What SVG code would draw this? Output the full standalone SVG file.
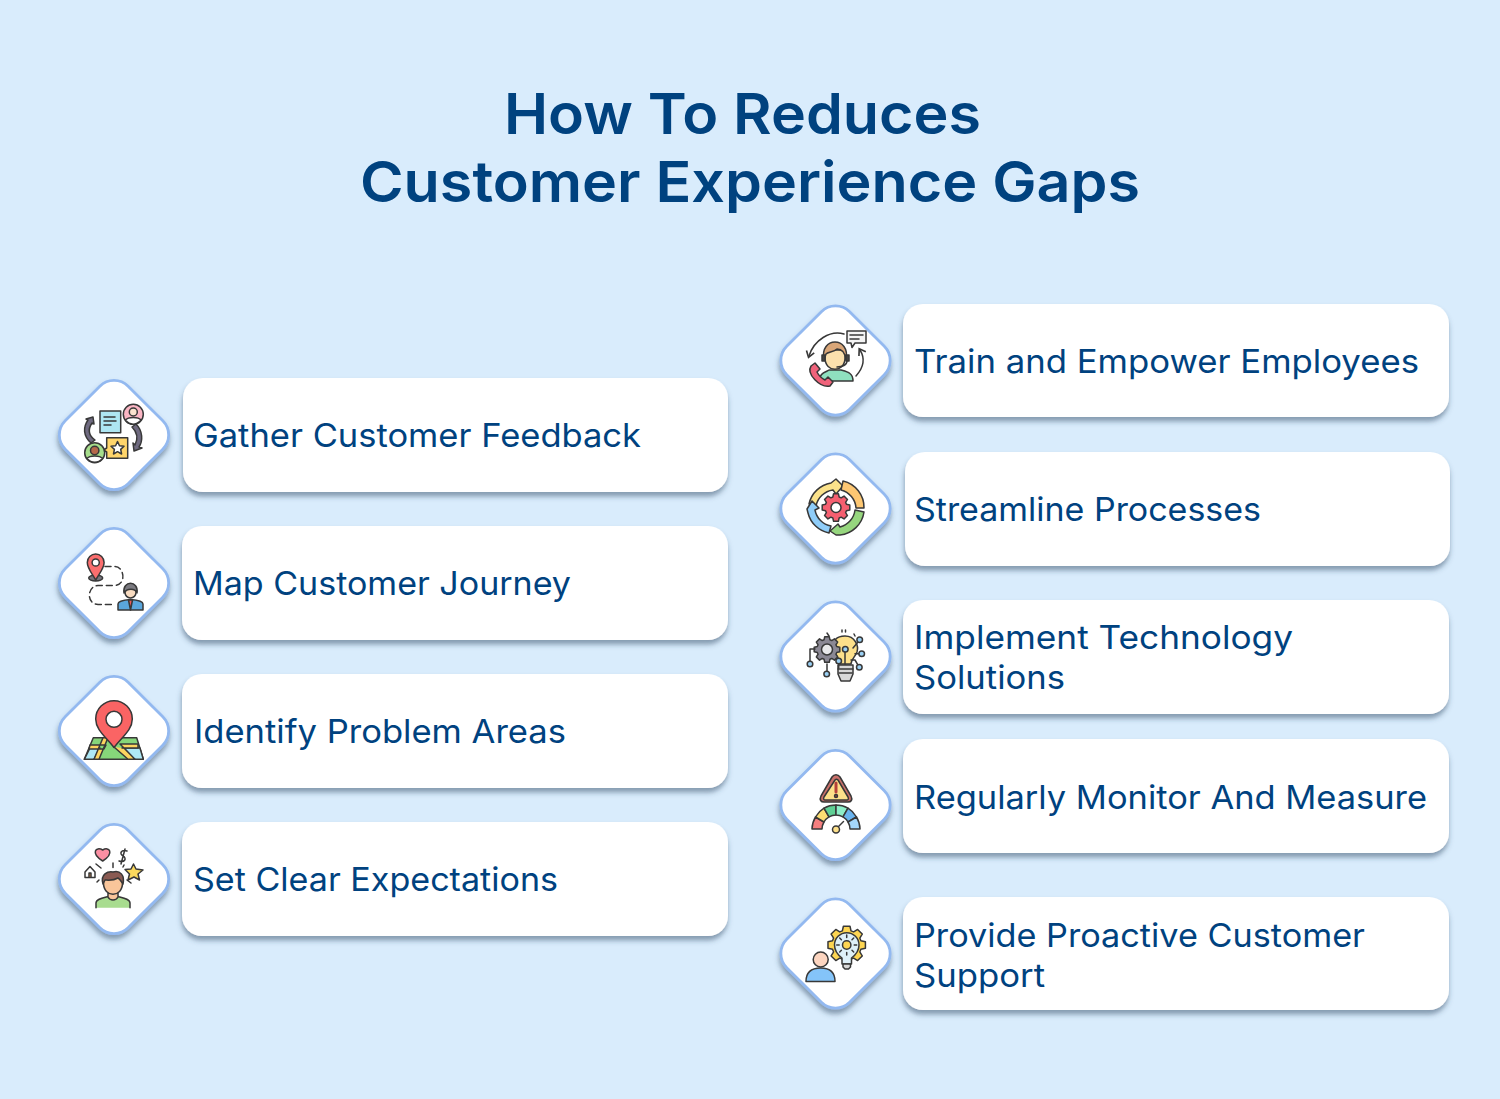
<svg xmlns="http://www.w3.org/2000/svg" width="1500" height="1099" viewBox="0 0 1500 1099">
<style>
text{font-family:"Inter","Open Sans","Liberation Sans",sans-serif;fill:#00427f}
.t{font-size:57px;font-weight:600}
.l{font-size:33px;font-weight:400}
.card{fill:#fff;filter:url(#sh)}
.dia{fill:#fff;stroke:#93b9f0;stroke-width:2.8;filter:url(#sh)}
.i{stroke:#383838;stroke-width:1.5;stroke-linejoin:round;stroke-linecap:round}
.n{fill:none}
</style>
<defs>
<filter id="sh" x="-20%" y="-20%" width="140%" height="150%"><feDropShadow dx="-0.5" dy="4.500" stdDeviation="2.800" flood-color="#2e4a66" flood-opacity=".5"/></filter>
<rect id="d" x="-44.500" y="-44.500" width="89" height="89" rx="20" transform="rotate(45)"/>
<path id="gear" vector-effect="non-scaling-stroke" d="M7.460-2.280 9.850-1.740 9.850 1.740 7.460 2.280 6.890 3.660 8.190 5.740 5.740 8.190 3.660 6.890 2.280 7.460 1.740 9.850-1.740 9.850-2.280 7.460-3.660 6.890-5.740 8.190-8.190 5.740-6.890 3.660-7.460 2.280-9.850 1.740-9.850-1.740-7.460-2.280-6.890-3.660-8.190-5.740-5.740-8.190-3.660-6.890-2.280-7.460-1.740-9.850 1.740-9.850 2.280-7.460 3.660-6.890 5.740-8.190 8.190-5.740 6.890-3.660Z"/>
<marker id="ah" markerWidth="7" markerHeight="7" refX="4" refY="3.500" orient="auto"><path d="M1 .8 5 3.500 1 6.200" fill="none" stroke="#383838" stroke-width="1.100"/></marker>
</defs>
<rect width="1500" height="1099" fill="#d9ecfc"/>
<g id="title">
<text class="t" x="504" y="134" textLength="477" lengthAdjust="spacingAndGlyphs">How To Reduces</text>
<text class="t" x="360" y="202" textLength="780" lengthAdjust="spacingAndGlyphs">Customer Experience Gaps</text>
</g>

<g id="node-feedback">
<rect class="card" x="183" y="378" width="545" height="114" rx="20"/>
<use href="#d" class="dia" x="114" y="435"/>
<text class="l" x="193" y="447" textLength="448" lengthAdjust="spacingAndGlyphs">Gather Customer Feedback</text>
<g class="i">
<path d="M91 443C83 436 83 427 88 420L86 419 93 417 94 424 92 423C88 429 88 435 95 440Z" fill="#6f6a80"/>
<path d="M136 424C143 431 143 441 139 447L142 448 134 451 133 443 135 445C138 439 138 433 132 427Z" fill="#6f6a80"/>
<path d="M100 411H120.700V432.700H100Z" fill="#aee6f2"/>
<path d="M104 417H115M104 421H116M104 425H111" class="n"/>
<circle cx="133.300" cy="414.300" r="10" fill="#fbb6c4"/>
<circle cx="133.300" cy="412" r="4" fill="#fbe3cf"/>
<path d="M125.500 420C128 416.500 138.500 416.500 141 420 136 425.500 130 425.500 125.500 420Z" fill="#fff"/>
<path d="M106.700 437.700H127.700V458.300H106.700V452L103.500 450 106.700 448Z" fill="#ffd56b"/>
<path d="M117.500 441.500 119.500 445.800 124 446.300 120.700 449.400 121.600 454 117.500 451.700 113.500 454 114.400 449.400 111 446.300 115.600 445.800Z" fill="#fff"/>
<circle cx="94.700" cy="452.700" r="10" fill="#a6dd8b"/>
<circle cx="94.700" cy="450.500" r="4.200" fill="#b5684a"/>
<path d="M87 458.500C89.500 455 100 455 102.500 458.500 98 463.500 91.500 463.500 87 458.500Z" fill="#fff"/>
</g>
</g>

<g id="node-journey">
<rect class="card" x="182" y="526" width="546" height="114" rx="20"/>
<use href="#d" class="dia" x="114" y="583"/>
<text class="l" x="193" y="595" textLength="378" lengthAdjust="spacingAndGlyphs">Map Customer Journey</text>
<g class="i">
<ellipse cx="95.700" cy="578" rx="7" ry="3" fill="#77767e"/>
<path d="M95.700 580C91 572 87.300 568 87.300 562.500A8.400 8.400 0 0 1 104.100 562.500C104.100 568 100.400 572 95.700 580Z" fill="#fa6e6e"/>
<circle cx="95.700" cy="562.500" r="3.600" fill="#fff"/>
<path d="M105 566.500H115C124 566.500 127 584.500 115 585.500H98C87 586 86 604 98 604.500H113" class="n" stroke-dasharray="6 4"/>
<path d="M118 610V604C118 601 124 600 130.500 599.500 137 600 143 601 143 604V610Z" fill="#5aa6dc"/>
<path d="M128.500 600 130.500 610 132.500 600Z" fill="#ee5a5a"/>
<circle cx="130.500" cy="592.500" r="5.500" fill="#f9dcc1"/>
<path d="M124 593C122 580 139 580 137 593 135 588 127 588 124 593Z" fill="#7b7a80"/>
</g>
</g>

<g id="node-problem">
<rect class="card" x="182" y="674" width="546" height="114" rx="20"/>
<use href="#d" class="dia" x="114" y="731"/>
<text class="l" x="194" y="743" textLength="372" lengthAdjust="spacingAndGlyphs">Identify Problem Areas</text>
<g class="i">
<path d="M93.300 737.700H136.700L143.300 759.300H84.300Z" fill="#86d67a"/>
<path d="M90 748H100L94 759.300H84.300ZM124 748 140 748 143.300 759.300H134Z" fill="#aee8f6"/>
<path d="M103 737.700 94 759.300H99L108 737.700ZM90 745H106L104 749H89ZM114 747 128 759.300H135L120 744 138 744V748L122 748" fill="#fdd45f"/>
<path d="M114 747.500C106 737 95.700 730 95.700 719A18.300 18.300 0 0 1 132.300 719C132.300 730 122 737 114 747.500Z" fill="#fa6464"/>
<circle cx="114" cy="719.300" r="8" fill="#fff"/>
</g>
</g>

<g id="node-expectations">
<rect class="card" x="182" y="822" width="546" height="114" rx="20"/>
<use href="#d" class="dia" x="114" y="879"/>
<text class="l" x="193" y="891" textLength="365" lengthAdjust="spacingAndGlyphs">Set Clear Expectations</text>
<g class="i">
<path d="M96 907.700V903C96 899 102 898 108 896.500H118C124 898 130 899 130 903V907.700" fill="#a8dc8f"/>
<path d="M108 893V897C110 901 116 901 118 897V893Z" fill="#f9c59a"/>
<path d="M103.500 883C103.500 898 122.500 898 122.500 883V878H103.500Z" fill="#f9c59a"/>
<path d="M103 884C100 874 108 871 113 872 120 870 125 875 123 884 121 881 120 879 118 878 113 881 107 880 105 880Z" fill="#8a5a52"/>
<path d="M102.700 861C90 853 96 846 102.700 850 109 846 115 853 102.700 861Z" fill="#fb8fa3"/>
<path d="M127 851C121 849 119 854 123 856S125 863 119 861M125 849 121 864" class="n"/>
<path d="M85 872 90 866.500 95 872V877.500H85Z" fill="#fff"/>
<path d="M89 877V873H91V877" fill="#f29a4e"/>
<path d="M133.500 864 136 869 143 870 138 874 139.500 880 134 877 128 880 129.500 874 125 869.500 131 869Z" fill="#fbd95d"/>
<path d="M96 864 101 868M113 863V867.500M123 867 124 865M97 882 99 880M127 880 131 883" class="n"/>
</g>
</g>

<g id="node-train">
<rect class="card" x="903" y="304" width="546" height="113" rx="20"/>
<use href="#d" class="dia" x="835.500" y="360.500"/>
<text class="l" x="914" y="373" textLength="505" lengthAdjust="spacingAndGlyphs">Train and Empower Employees</text>
<g class="i">
<path d="M844 334C830 330 814 340 809 356" class="n" marker-end="url(#ah)"/>
<path d="M856 376C864 367 865 358 860 350" class="n" marker-end="url(#ah)"/>
<path d="M820 381V378C820 373 826 372 829 370H841C848 372 853 373 853 381Z" fill="#8fe0bf"/>
<path d="M825 358C825 373 845 373 845 358V350H825Z" fill="#fbe0ad"/>
<path d="M824 360C819 336 851 336 846 360 845 352 841 349 837 349 834 352 828 352 826 354Z" fill="#d9a678"/>
<rect x="822" y="355" width="3" height="6" fill="#444"/><rect x="846" y="355" width="3" height="6" fill="#444"/>
<path d="M847 361C847 365 842 367 837 367" class="n"/>
<path d="M847 331H866V343H855L852 347.500 851 343H847Z" fill="#f4f4f4"/>
<path d="M850 335H863M850 339H859" class="n"/>
<path d="M811 366 815 363 820 369 817 372C819 376 821 378 825 380L828 377 833 382 830 386C820 388 806 374 811 366Z" fill="#f0637b"/>
</g>
</g>

<g id="node-streamline">
<rect class="card" x="905" y="452" width="545" height="114" rx="20"/>
<use href="#d" class="dia" x="835.500" y="508.500"/>
<text class="l" x="914" y="521" textLength="347" lengthAdjust="spacingAndGlyphs">Streamline Processes</text>
<g class="i">
<path d="M809 504A27 27 0 0 1 831 483L836 479 843 486 836 494 833 490A20 20 0 0 0 816 506Z" fill="#fbe28a"/>
<path d="M843 481A27 27 0 0 1 864 508L856 508A20 20 0 0 0 841 490Z" fill="#fdc772"/>
<path d="M864 512A27 27 0 0 1 840 535L836 535 830 531 838 524 840 527A20 20 0 0 0 855 510Z" fill="#96d67e"/>
<path d="M829 533A27 27 0 0 1 808 513L807 509 812 501 819 508 815 510A20 20 0 0 0 831 526Z" fill="#8fcdf9"/>
<use href="#gear" transform="translate(836 507.500) scale(1.400)" fill="#f55f70"/>
<circle cx="836" cy="507.500" r="5" fill="#fff"/>
</g>
</g>

<g id="node-technology">
<rect class="card" x="903" y="600" width="546" height="114" rx="20"/>
<use href="#d" class="dia" x="835.500" y="656.500"/>
<text class="l" x="914" y="649" textLength="379" lengthAdjust="spacingAndGlyphs">Implement Technology</text>
<text class="l" x="914" y="689" textLength="151" lengthAdjust="spacingAndGlyphs">Solutions</text>
<g class="i">
<path d="M840 664C841 660 837 657 834 652 830 640 838 636 845 636 855 636 859 646 857 652 855 657 851 660 851 664Z" fill="#fde08a"/>
<path d="M838 665H853V674L850 681H841L838 674Z" fill="#d8d8d8"/>
<path d="M838 669H853M839 673H852" class="n"/>
<use href="#gear" transform="translate(827 649.500) scale(1.300)" fill="#8b8894"/>
<circle cx="827" cy="649.500" r="5.500" fill="#e8e8ea"/>
<path d="M815 649H810V664M827 664V674M845 649V664M838.700 661V668M859.700 640 853 648M861.700 653.700H855M859.300 667.300 855 660H851M842 632V630M829 636 827 633M845.500 632V630M855 636 854 634" class="n"/>
<g fill="#9ad0f4"><circle cx="810" cy="664" r="2.800"/><circle cx="826.700" cy="674" r="2.800"/><circle cx="838.700" cy="661" r="2.800"/><circle cx="845.300" cy="649.300" r="2.800"/><circle cx="859.700" cy="639.700" r="2.800"/><circle cx="861.700" cy="653.700" r="2.800"/><circle cx="859.300" cy="667.300" r="2.800"/></g>
</g>
</g>

<g id="node-monitor">
<rect class="card" x="903" y="739" width="546" height="114" rx="20"/>
<use href="#d" class="dia" x="835.500" y="805"/>
<text class="l" x="914" y="809" textLength="513" lengthAdjust="spacingAndGlyphs">Regularly Monitor And Measure</text>
<g class="i">
<path d="M832 777C834 774 838 774 840 777L851 796C853 800 851 802 848 802H824C821 802 819 800 821 796Z" fill="#c9706a"/>
<path d="M835 780C836 779 837 779 838 780L848 797C849 799 848 800 847 800H825C824 800 823 799 824 797Z" fill="#fde08a"/>
<path d="M836 783V792" stroke="#b5403a" stroke-width="3"/>
<circle cx="836" cy="796" r="1.500" fill="#b5403a"/>
<path d="M812 829A24 24 0 0 1 815.500 817L824 822A14 14 0 0 0 822 829Z" fill="#f57f7f"/>
<path d="M815.500 817A24 24 0 0 1 824 808.200L829 816.900A14 14 0 0 0 824 822Z" fill="#fddf73"/>
<path d="M824 808.200A24 24 0 0 1 836 805V815A14 14 0 0 0 829 816.900Z" fill="#5fcf94"/>
<path d="M836 805A24 24 0 0 1 848 808.200L843 816.900A14 14 0 0 0 836 815Z" fill="#8eeec8"/>
<path d="M848 808.200A24 24 0 0 1 856.500 817L848 822A14 14 0 0 0 843 816.900Z" fill="#69b3ee"/>
<path d="M856.500 817A24 24 0 0 1 860 829H850A14 14 0 0 0 848 822Z" fill="#a4d6fa"/>
<path d="M838.500 826.500 843.500 821.500" class="n"/>
<circle cx="836" cy="829.500" r="3.500" fill="#fde08a"/>
</g>
</g>

<g id="node-support">
<rect class="card" x="903" y="897" width="546" height="113" rx="20"/>
<use href="#d" class="dia" x="835.500" y="953.500"/>
<text class="l" x="914" y="947" textLength="451" lengthAdjust="spacingAndGlyphs">Provide Proactive Customer</text>
<text class="l" x="914" y="987" textLength="131" lengthAdjust="spacingAndGlyphs">Support</text>
<g class="i">
<use href="#gear" transform="translate(846.700 945) scale(1.900)" fill="#fdd552"/>
<path d="M842 958C838 955 834.500 951 834.500 945A12.200 12.200 0 0 1 859 945C859 951 855.500 955 851.500 958V964H842Z" fill="#def0f8"/>
<path d="M843 964H850.500V967L848.500 969H845L843 967Z" fill="#d8d8d8"/>
<circle cx="846.700" cy="945" r="4.200" fill="#fdd552"/>
<path d="M846.700 935V937.500M846.700 952.500V955M836.700 945H839.200M854.200 945H856.700M839.700 938 841.400 939.700M853.700 938 852 939.700M839.700 952 841.400 950.300M853.700 952 852 950.300" class="n"/>
<circle cx="820.700" cy="959.500" r="7.500" fill="#fcd5c0"/>
<path d="M806 981.500C806 972 812 968 820.700 968S835 972 835 981.500Z" fill="#84c4f9"/>
</g>
</g>
</svg>
